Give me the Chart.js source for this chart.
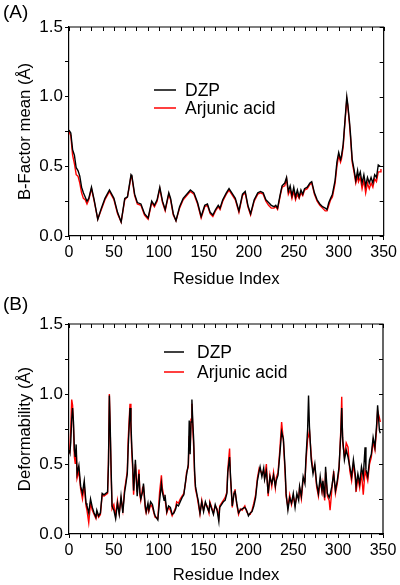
<!DOCTYPE html>
<html>
<head>
<meta charset="utf-8">
<script src="https://cdn.jsdelivr.net/npm/chart.js@4.4.1/dist/chart.umd.min.js"></script>
<style>
  html, body { margin: 0; padding: 0; background: #fff; }
  #wrap { position: relative; width: 400px; height: 585px; }
  canvas { position: absolute; left: 0; }
</style>
</head>
<body>
<div id="wrap">
  <canvas id="chart-a" width="400" height="290" style="top:0"></canvas>
  <canvas id="chart-b" width="400" height="293" style="top:292px"></canvas>
</div>
<script>
// ── Data (A) B-factor ──
const A_RES = [
  0,2,4,6,8,10,12,14,16,18,
  20,22,25,28,32,36,40,45,50,54,
  58,62,65,67,69,70,73,76,80,84,
  88,92,95,98,101,104,107,111,113,116,
  119,123,127,131,135,139,143,147,151,154,
  157,160,163,166,168,171,175,178,182,185,
  189,193,196,199,202,206,210,213,216,219,
  222,225,228,230,232,235,237,240,242,244,
  246,248,250,252,254,256,258,260,262,265,
  268,270,273,276,279,282,285,287,289,291,
  293,296,298,300,302,303,305,307,309,310,
  312,313,315,317,319,321,322,324,326,328,
  330,332,334,336,338,340,342,344,346,347,
];
const A_DZP = [
  .76,.74,.62,.58,.49,.47,.43,.35,.31,.28,
  .25,.27,.35,.26,.12,.20,.27,.33,.27,.17,
  .10,.27,.28,.36,.44,.43,.30,.24,.23,.16,
  .13,.25,.22,.26,.35,.25,.19,.31,.27,.16,
  .11,.21,.27,.30,.33,.31,.24,.14,.22,.23,
  .17,.15,.19,.22,.20,.26,.31,.34,.30,.27,
  .18,.30,.32,.22,.16,.26,.31,.32,.31,.26,
  .24,.22,.21,.22,.20,.30,.36,.38,.42,.32,
  .36,.29,.35,.28,.33,.28,.33,.30,.34,.35,
  .38,.39,.31,.26,.23,.21,.20,.19,.24,.27,
  .30,.40,.53,.60,.55,.57,.66,.83,1.0,.95,
  .82,.74,.55,.48,.40,.47,.42,.46,.38,.44,
  .36,.42,.38,.42,.38,.44,.42,.51,.50,.50,
];
const A_ARJ = [
  .75,.72,.58,.52,.44,.43,.38,.31,.27,.26,
  .23,.26,.34,.25,.12,.19,.26,.32,.26,.16,
  .10,.26,.28,.35,.43,.42,.29,.23,.22,.15,
  .12,.24,.21,.25,.34,.24,.18,.30,.26,.15,
  .11,.20,.26,.29,.32,.30,.23,.13,.21,.22,
  .16,.14,.18,.21,.19,.25,.30,.33,.29,.26,
  .17,.29,.31,.21,.15,.25,.30,.31,.30,.25,
  .22,.20,.20,.21,.19,.29,.35,.36,.41,.30,
  .33,.27,.32,.26,.30,.27,.31,.29,.33,.34,
  .37,.38,.30,.25,.22,.20,.18,.18,.22,.26,
  .28,.38,.50,.58,.53,.55,.64,.82,.98,.94,
  .80,.72,.53,.46,.38,.43,.39,.42,.34,.40,
  .31,.38,.34,.38,.35,.41,.39,.46,.46,.48,
];

// ── Data (B) Deformability ──
const B_RES = [
  0,1,2,3,4,5,6,7,8,9,
  11,13,15,17,18,19,20,22,24,26,
  28,30,31,33,35,37,39,41,43,44,
  45,46,47,48,50,52,54,56,58,60,
  62,63,65,66,68,69,70,71,72,74,
  76,78,79,80,82,83,85,86,88,89,
  91,93,95,96,99,101,103,104,106,107,
  109,111,113,115,117,119,120,122,124,126,
  128,130,131,133,134,135,136,137,138,139,
  140,141,143,144,146,148,150,152,154,156,
  157,159,161,163,165,167,168,170,172,174,
  176,177,179,180,182,184,185,187,189,191,
  193,196,198,200,202,204,206,208,210,212,
  213,215,217,218,220,222,224,226,228,230,
  231,233,235,237,239,241,242,244,246,248,
  250,252,254,256,257,259,261,263,264,266,
  267,268,270,272,274,276,278,280,282,283,
  285,286,288,290,291,293,295,297,299,301,
  303,304,305,307,309,311,313,315,317,319,
  320,322,324,326,328,330,331,333,335,337,
  339,341,343,344,346,347,
];
const B_DZP = [
  .60,.58,.66,.82,.90,.80,.60,.55,.64,.43,
  .49,.34,.29,.38,.30,.22,.20,.15,.25,.19,
  .15,.12,.17,.13,.15,.29,.28,.29,.30,.50,
  .99,.75,.45,.20,.17,.11,.22,.14,.27,.15,
  .30,.34,.43,.62,.90,.80,.62,.50,.31,.53,
  .27,.43,.30,.25,.30,.36,.20,.16,.22,.17,
  .23,.21,.15,.13,.10,.24,.36,.30,.24,.28,
  .16,.20,.19,.14,.15,.18,.21,.20,.23,.26,
  .28,.38,.42,.50,.81,.57,.80,.96,.80,.67,
  .45,.34,.27,.24,.15,.23,.16,.23,.19,.16,
  .22,.18,.14,.21,.17,.09,.19,.21,.23,.24,
  .29,.44,.55,.42,.20,.29,.31,.22,.15,.17,
  .18,.19,.17,.13,.15,.16,.20,.26,.38,.45,
  .48,.41,.47,.39,.45,.29,.41,.36,.42,.34,
  .38,.42,.57,.73,.68,.45,.29,.17,.26,.22,
  .29,.19,.29,.24,.34,.27,.41,.36,.53,.75,
  .99,.77,.53,.43,.50,.36,.29,.41,.31,.38,
  .26,.48,.29,.26,.28,.34,.43,.31,.38,.48,
  .72,.90,.69,.53,.60,.55,.48,.41,.53,.43,
  .34,.43,.36,.48,.41,.62,.46,.41,.53,.57,
  .69,.62,.79,.92,.74,.72,
];
const B_ARJ = [
  .58,.62,.75,.96,.92,.76,.55,.50,.60,.40,
  .45,.32,.25,.35,.27,.20,.17,.08,.22,.17,
  .14,.11,.15,.12,.14,.28,.27,.28,.29,.52,
  1.0,.72,.42,.18,.21,.13,.24,.15,.25,.17,
  .32,.36,.45,.68,.93,.76,.58,.46,.28,.50,
  .30,.46,.28,.24,.33,.34,.18,.15,.20,.16,
  .21,.19,.14,.12,.11,.30,.42,.33,.26,.25,
  .15,.19,.17,.13,.16,.19,.23,.22,.25,.27,
  .29,.37,.44,.48,.70,.60,.82,.93,.75,.62,
  .42,.32,.26,.22,.14,.24,.17,.22,.20,.15,
  .23,.19,.15,.20,.18,.12,.20,.22,.24,.26,
  .30,.46,.61,.40,.19,.30,.32,.21,.14,.18,
  .17,.20,.16,.14,.14,.17,.22,.28,.40,.47,
  .46,.43,.45,.40,.50,.27,.42,.34,.44,.33,
  .40,.44,.60,.80,.66,.42,.27,.19,.28,.21,
  .27,.21,.27,.26,.33,.25,.39,.38,.50,.68,
  .70,.74,.56,.45,.48,.34,.27,.38,.30,.36,
  .24,.44,.27,.24,.17,.32,.45,.29,.36,.46,
  .75,.98,.66,.55,.65,.62,.45,.38,.50,.40,
  .30,.40,.33,.44,.28,.45,.43,.38,.50,.55,
  .66,.60,.76,.88,.83,.80,
];

const SERIES = ['DZP', 'Arjunic acid'];
const COLORS = ['#000000', '#ff0000'];
const X_TICKS = [0, 50, 100, 150, 200, 250, 300, 350];
const Y_TICKS = [0, 0.5, 1.0, 1.5];

const FONT = '"Liberation Sans", Arial, sans-serif';
Chart.defaults.font.family = FONT;
Chart.defaults.color = '#000';

// cadre haut/droite + ticks internes + lettre + légende
const framePlugin = {
  id: 'frame',
  afterDraw(chart, args, o) {
    const { ctx, chartArea: a, scales } = chart;
    ctx.save();
    ctx.strokeStyle = '#000';
    ctx.lineWidth = 1.2;
    ctx.beginPath();
    ctx.moveTo(a.left, a.top); ctx.lineTo(a.right, a.top); ctx.lineTo(a.right, a.bottom);
    ctx.stroke();
    ctx.lineWidth = 1;
    ctx.beginPath();
    scales.x.ticks.forEach(t => {
      const px = Math.round(scales.x.getPixelForValue(t.value)) + 0.5;
      ctx.moveTo(px, a.top); ctx.lineTo(px, a.top + 4);
    });
    scales.y.ticks.forEach(t => {
      const py = Math.round(scales.y.getPixelForValue(t.value)) + 0.5;
      ctx.moveTo(a.right, py); ctx.lineTo(a.right - 4, py);
    });
    ctx.stroke();

    ctx.fillStyle = '#000';
    ctx.font = '19px ' + FONT;
    ctx.textBaseline = 'alphabetic';
    ctx.fillText(o.letter, 3, o.letterY);

    ctx.font = '17.5px ' + FONT;
    ctx.textBaseline = 'middle';
    chart.data.datasets.forEach((ds, i) => {
      const y = o.legY + i * o.legGap;
      ctx.strokeStyle = ds.borderColor;
      ctx.lineWidth = 1.5;
      ctx.beginPath();
      ctx.moveTo(o.legX, y); ctx.lineTo(o.legX + o.legLen, y);
      ctx.stroke();
      ctx.fillText(ds.label, o.legX + o.legLen + o.legPad, y + 1);
    });
    ctx.restore();
  },
};

function makePanel(id, res, dzp, arj, yTitle, area, frame) {
  const canvas = document.getElementById(id);
  const H = canvas.height;
  const toPts = vals => res.map((r, i) => ({ x: r, y: vals[i] }));
  return new Chart(canvas, {
    type: 'line',
    data: {
      datasets: [
        { label: SERIES[0], data: toPts(dzp), borderColor: COLORS[0], borderWidth: 1.4, pointRadius: 0, tension: 0 },
        { label: SERIES[1], data: toPts(arj), borderColor: COLORS[1], borderWidth: 1.4, pointRadius: 0, tension: 0 },
      ],
    },
    options: {
      responsive: false, animation: false,
      layout: { padding: { left: 0, right: 400 - area.right, top: area.top, bottom: 0 } },
      plugins: { legend: { display: false }, tooltip: { enabled: false }, frame },
      scales: {
        x: {
          type: 'linear', min: 0, max: 350,
          afterFit: s => { s.height = H - area.bottom; },
          border: { display: true, color: '#000', width: 1.2 },
          grid: { drawOnChartArea: false, drawTicks: true, tickLength: 4, color: '#000' },
          ticks: {
            stepSize: 12.5, autoSkip: false, maxRotation: 0, padding: 3,
            font: { size: 16 },
            callback: v => X_TICKS.includes(v) ? String(v) : '',
          },
          title: { display: true, text: 'Residue Index', font: { size: 16.7 }, padding: { top: 0, bottom: frame.xTitlePad } },
        },
        y: {
          min: 0, max: 1.5,
          afterFit: s => { s.width = area.left; },
          border: { display: true, color: '#000', width: 1.2 },
          grid: { drawOnChartArea: false, drawTicks: true, tickLength: 4, color: '#000' },
          ticks: {
            stepSize: 0.25, autoSkip: false, padding: 2,
            font: { size: 17 },
            callback: v => Y_TICKS.some(t => Math.abs(t - v) < 1e-6) ? v.toFixed(1) : '',
          },
          title: { display: true, text: yTitle, font: { size: 16.7 }, padding: { top: 15, bottom: 0 } },
        },
      },
    },
    plugins: [framePlugin],
  });
}

makePanel('chart-a', A_RES, A_DZP, A_ARJ, 'B-Factor mean (Å)',
  { left: 69, right: 384, top: 27, bottom: 236 },
  { letter: '(A)', letterY: 18, legX: 154, legLen: 22, legPad: 9, legY: 90, legGap: 18, xTitlePad: 1 });

makePanel('chart-b', B_RES, B_DZP, B_ARJ, 'Deformability (Å)',
  { left: 69, right: 383, top: 32, bottom: 242 },
  { letter: '(B)', letterY: 18, legX: 164, legLen: 20, legPad: 13, legY: 60, legGap: 20, xTitlePad: 0 });
</script>
</body>
</html>
